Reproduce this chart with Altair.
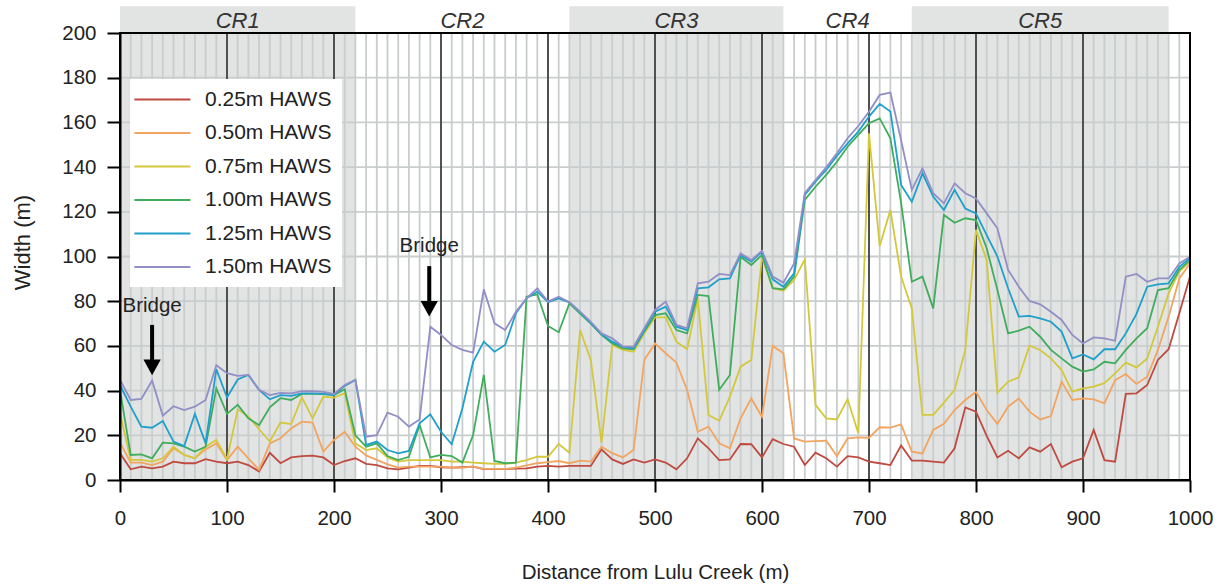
import altair as alt
import pandas as pd

FONT = "Liberation Sans, Arial, sans-serif"

distance = list(range(0, 1001, 10))

w025 = [12, 4.8, 6, 5.2, 6, 8.2, 7.5, 7.5, 9.3, 8.2,
        7.5, 8.2, 6.7, 3.8, 12.2, 7.5, 10.1, 10.7, 10.9, 10.1,
        6.7, 8.5, 9.7, 7.2, 6.7, 5.2, 4.8, 5.5, 6.3, 6.3,
        5.7, 5.5, 5.7, 6, 4.9, 4.9, 4.9, 5.1, 5.2, 6,
        6.3, 6, 6.3, 6.3, 6.3, 13.7, 9.2, 7.2, 9.2, 7.8,
        9.2, 7.8, 4.8, 9.7, 18.6, 14.2, 8.9, 9.2, 16.1, 16,
        10.1, 18.3, 16.1, 14.9, 6.7, 12.2, 9.7, 6, 10.7, 10.1,
        8.2, 7.5, 6.7, 15.5, 8.7, 8.7, 8.2, 7.8, 14.2, 32.5,
        30.6, 19.7, 10.1, 13.1, 9.7, 14.6, 12.7, 16.1, 5.7, 8.2,
        9.7, 22.4, 8.9, 8.2, 38.5, 38.8, 42.5, 53.7, 58.5, 74.6,
        91]

w050 = [16.7, 7.8, 7.8, 6.7, 8.2, 14.2, 11.2, 9.7, 13.7, 16.4,
        9, 14.9, 9.7, 4.5, 16.4, 18.7, 23.1, 26.1, 25.7, 12.7,
        17.9, 21.6, 14.9, 11, 9, 7, 5.5, 6, 6, 6,
        6, 5.5, 5.5, 6, 5, 5, 5, 5.5, 6.5, 7.5,
        8, 8.5, 7.5, 8.7, 8.2, 14.9, 12, 10.1, 13.4, 53.7,
        61.1, 56.7, 52.5, 40.3, 21.6, 23.9, 16.4, 14.2, 27.6, 36.5,
        28.3, 60, 56.7, 18.6, 17.2, 17.4, 17.6, 10.7, 18.6, 19.1,
        18.9, 23.6, 23.4, 24.9, 12.7, 11.9, 22.4, 25.1, 31.3, 35.8,
        39.5, 31.3, 25.1, 32.8, 36.5, 30.6, 27.1, 28.6, 44, 35.8,
        36.5, 36.1, 34.3, 44.7, 47.4, 43, 46.2, 58.2, 73.1, 90.2,
        96.9]

w075 = [29.9, 9, 9, 8.2, 9.7, 14.9, 11.2, 9.7, 14.9, 17.9,
        9.3, 31.6, 28.4, 22.7, 17.2, 25.7, 25, 37, 27.6, 37.3,
        36.9, 38.8, 16.4, 13.4, 14.2, 10.1, 8.2, 8.9, 8.9, 8.9,
        8.9, 8.2, 8.2, 7.8, 7.5, 7.2, 7.2, 7.8, 8.9, 10.4,
        10.4, 16.1, 12.2, 67.1, 53.7, 16.7, 60.4, 58.2, 57.4, 65.6,
        72.8, 72.8, 61.9, 58.5, 81.3, 29.1, 26.5, 37.3, 50.7, 53.7,
        99.9, 85.8, 84.7, 89.5, 98.7, 33.6, 27.6, 27.1, 36.1, 20.9,
        155.1, 104.7, 120.8, 91, 76.8, 29.1, 29.1, 34.6, 40.3, 58.2,
        111.9, 98.4, 39.1, 44, 45.9, 60.1, 58.2, 54.4, 49.2, 39.5,
        41, 41.8, 43.3, 47.7, 52.5, 50.4, 54.4, 68.6, 83.5, 93.2,
        97.7]

w100 = [40.3, 11.2, 11.5, 9.7, 16.7, 16.4, 14.9, 12.7, 14.9, 41,
        29.6, 33.6, 27.6, 24.5, 32.5, 36.6, 35.8, 38.5, 38.5, 38.4,
        38, 40.6, 20, 14.9, 16.4, 10.7, 8.9, 10.4, 24.6, 10.1,
        11.2, 10.7, 7.8, 20.1, 47, 8.5, 7.5, 7.8, 82, 83.1,
        68.9, 66.1, 79, 74.5, 70, 65, 61.1, 58.9, 58.5, 66.4,
        73.8, 74.6, 67.1, 65.6, 82.8, 82.3, 40.3, 47, 99.9, 96.2,
        100.7, 85.8, 85.3, 91, 125.3, 131.2, 136.5, 142.4, 149.1, 154.4,
        159.6, 161.8, 152.9, 124, 88.7, 91, 76.8, 118.6, 115.1, 117.1,
        116.3, 103.7, 85, 65.6, 66.8, 68.6, 64.1, 58.2, 54.4, 50.7,
        48.5, 49.5, 52.9, 52.2, 58.2, 63.4, 67.9, 85, 85.8, 94,
        98.4]

w125 = [42.5, 32.8, 23.9, 23.4, 26.4, 17.2, 15.2, 29.6, 16.4, 49.6,
        36.9, 45, 47, 40.3, 36.1, 38, 37.6, 38.8, 38.8, 38.5,
        38, 42.1, 44.8, 15.7, 17.2, 13.4, 11.9, 13, 25.4, 29.4,
        21.6, 16, 32.1, 52.9, 61.9, 57.4, 60.4, 74.6, 81.3, 84.3,
        79.5, 81.3, 79.5, 75, 70.3, 65.2, 61.9, 59.7, 58.9, 67.1,
        75.3, 77.6, 68.6, 67.1, 85.8, 86.2, 89.8, 90.2, 100.7, 97.7,
        102.2, 89.8, 86.5, 92.5, 127.5, 133.5, 138.7, 145, 150.6, 155.9,
        162.6, 168.3, 164.9, 132, 124.5, 137.2, 126.8, 120.8, 129.8, 121.5,
        119.3, 109.6, 100, 85.8, 73.1, 73.4, 72.3, 70.8, 66.4, 54.4,
        56.2, 54, 58.5, 58.5, 65.6, 74.3, 86.5, 87.5, 88, 95.4,
        99.2]

w150 = [44.8, 35.8, 36.3, 44.5, 28.8, 33, 31.3, 32.8, 35.8, 51.3,
        47.8, 46.6, 47, 40.3, 38, 39, 38.8, 39.8, 39.7, 39.4,
        38.5, 42.5, 44.8, 19.4, 20.1, 30.1, 28.3, 23.9, 27.1, 68.6,
        64.9, 60.4, 58.2, 57, 85.3, 70.1, 67.1, 75.3, 81.3, 85.8,
        79.8, 82, 79.5, 75.3, 70.8, 65.6, 63.4, 59.7, 59.7, 67.9,
        76.1, 79.8, 69.4, 67.9, 88, 88.7, 92.2, 91.7, 101.4, 98.4,
        102.6, 91, 88.3, 96.9, 128.3, 134.2, 139.9, 146.2, 152.9, 158.4,
        164.8, 172.3, 173.3, 152, 129.8, 139.4, 128.3, 123.8, 132.7, 128.3,
        126, 119.3, 112.6, 94, 86.5, 80.1, 78.6, 75.3, 71.6, 64.9,
        61.1, 63.8, 63.4, 62.3, 91, 92.2, 88.7, 90.2, 90.2, 96.9,
        99.9]

series_names = ["0.25m HAWS", "0.50m HAWS", "0.75m HAWS",
                "1.00m HAWS", "1.25m HAWS", "1.50m HAWS"]
series_values = [w025, w050, w075, w100, w125, w150]
series_colors = ["#bf4a40", "#f2a560", "#d3c83c", "#40ad5c", "#1ea0cb", "#928ec6"]

reg_start = [0, 220, 420, 620, 740]
reg_end = [220, 420, 620, 740, 980]
reg_label = ["CR1", "CR2", "CR3", "CR4", "CR5"]
reg_shaded = [True, False, True, False, True]

bridge_x = [30, 289]
bridge_text_y = [75.3, 102.1]
bridge_shaft_top = [69.4, 95.7]
bridge_shaft_bottom = [53, 79]
bridge_head_y = [50.4, 76.6]

# ---------- tables ----------
rows = []
for name, vals in zip(series_names, series_values):
    assert len(vals) == len(distance)
    for d, v in zip(distance, vals):
        rows.append({"d": d, "w": v, "s": name})
lines_df = pd.DataFrame(rows)

reg_df = pd.DataFrame({"x0": reg_start, "x1": reg_end, "label": reg_label,
                       "shaded": reg_shaded})
reg_df["xc"] = (reg_df["x0"] + reg_df["x1"]) / 2
reg_df["y0"] = 0
reg_df["y1"] = 212
reg_df["ylab"] = 202.2
shade_df = reg_df[reg_df["shaded"]]

minor_x = pd.DataFrame({"d": [d for d in range(10, 1000, 10) if d % 100 != 0]})
minor_x["y0"] = 0
minor_x["y1"] = 200
major_x = pd.DataFrame({"d": list(range(100, 1000, 100))})
major_x["y0"] = 0
major_x["y1"] = 200
grid_y = pd.DataFrame({"w": list(range(20, 200, 20))})
grid_y["x0"] = 0
grid_y["x1"] = 1000
frame_df = pd.DataFrame({"x0": [0], "x1": [1000], "y0": [0], "y1": [200]})
bridge_df = pd.DataFrame({"x": bridge_x, "ty": bridge_text_y, "st": bridge_shaft_top,
                          "sb": bridge_shaft_bottom, "hy": bridge_head_y})

xs = alt.Scale(domain=[0, 1000], nice=False, zero=False)
ys = alt.Scale(domain=[0, 200], nice=False, zero=False)

x_axis = alt.Axis(values=list(range(0, 1001, 100)), format="d",
                  title="Distance from Lulu Creek (m)",
                  grid=False, tickSize=12, tickWidth=2, tickColor="black",
                  domainColor="black", domainWidth=2, labelFontSize=20.5, labelFont=FONT,
                  labelColor="#222", labelPadding=16, titleFontSize=20.5, titleFont=FONT,
                  titleFontWeight="normal", titleColor="#222", titleY=92,
                  titleBaseline="middle", zindex=1, labelFlush=False)
y_axis = alt.Axis(values=list(range(0, 201, 20)), format="d", title="Width (m)",
                  grid=False, tickSize=13, tickWidth=2, tickColor="black",
                  domainColor="black", domainWidth=2, labelFontSize=20.5, labelFont=FONT,
                  labelColor="#222", labelPadding=11, titleFontSize=22, titleFont=FONT,
                  titleFontWeight="normal", titleColor="#222", titleX=-98, titleY=209,
                  titleAngle=-90, titleAlign="center", titleBaseline="middle", zindex=1,
                  labelFlush=False)


def X(f):
    return alt.X(f, type="quantitative", scale=xs, axis=x_axis)


def Y(f):
    return alt.Y(f, type="quantitative", scale=ys, axis=y_axis)


shade = alt.Chart(shade_df).mark_rect(color="#e2e3e3").encode(
    x=X("x0"), x2="x1", y=Y("y0"), y2="y1")

minor_rules = alt.Chart(minor_x).mark_rule(color="#c9cdcd", strokeWidth=1.8).encode(
    x=X("d"), y=Y("y0"), y2="y1")
h_rules = alt.Chart(grid_y).mark_rule(color="#c9cdcd", strokeWidth=1.8).encode(
    y=Y("w"), x=X("x0"), x2="x1")
major_rules = alt.Chart(major_x).mark_rule(color="#505252", strokeWidth=2).encode(
    x=X("d"), y=Y("y0"), y2="y1")

lines = alt.Chart(lines_df).mark_line(strokeWidth=1.8).encode(
    x=X("d"), y=Y("w"),
    color=alt.Color("s:N", sort=series_names,
                    scale=alt.Scale(domain=series_names, range=series_colors),
                    legend=alt.Legend(orient="none", legendX=10, legendY=46, title=None,
                                      symbolType="M-2.3,0H5.7", symbolSize=196,
                                      symbolStrokeWidth=1.8, labelFontSize=21,
                                      labelFont=FONT, labelColor="#222", labelOffset=44,
                                      padding=10, rowPadding=11.5, fillColor="white",
                                      symbolLimit=0)),
    order=alt.Order("d:Q"),
    detail="s:N")

frame = alt.Chart(frame_df).mark_rect(fill=None, stroke="black", strokeWidth=2).encode(
    x=X("x0"), x2="x1", y=Y("y0"), y2="y1")

cr_text = alt.Chart(reg_df).mark_text(font=FONT, fontSize=22, fontStyle="italic",
                                      color="#333", baseline="alphabetic").encode(
    x=X("xc"), y=Y("ylab"), text="label")

bridge_text = alt.Chart(bridge_df).mark_text(font=FONT, fontSize=20.5, color="#222",
                                             baseline="alphabetic").encode(
    x=X("x"), y=Y("ty"), text=alt.value("Bridge"))
bridge_shaft = alt.Chart(bridge_df).mark_rule(color="black", strokeWidth=4).encode(
    x=X("x"), y=Y("st"), y2="sb")
bridge_head = alt.Chart(bridge_df).mark_point(shape="M-1,-0.9L1,-0.9L0,0.9Z", size=300,
                                              filled=True, color="black", opacity=1).encode(
    x=X("x"), y=Y("hy"))

chart = alt.layer(shade, minor_rules, h_rules, major_rules, lines, frame, cr_text,
                  bridge_text, bridge_shaft, bridge_head).properties(
    width=1070, height=447,
    padding={"left": 120, "top": 33, "right": 33, "bottom": 107},
    autosize=alt.AutoSizeParams(type="none"),
    background="white",
).configure_view(stroke=None)

chart.save("out.html", embed_options={"renderer": "svg", "actions": False})
